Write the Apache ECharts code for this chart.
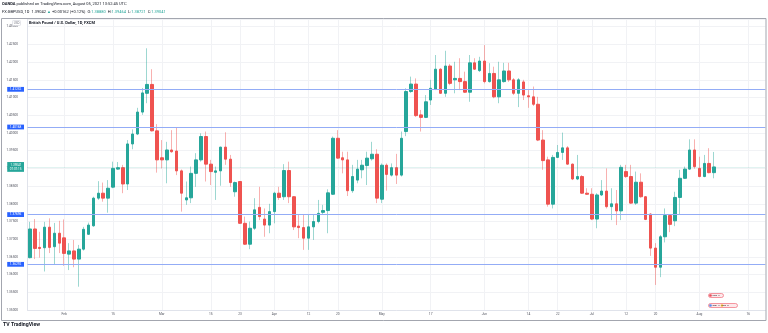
<!DOCTYPE html>
<html><head><meta charset="utf-8">
<script src="https://cdn.jsdelivr.net/npm/echarts@6/dist/echarts.min.js"></script>
<style>html,body{margin:0;padding:0;background:#fff;}#c{width:768px;height:333px;}</style>
</head><body><div id="c"></div>
<script>
// ---- categories: trading days (weekdays) shown on the axis
const firstDay = '2021-01-21';
const lastDay = '2021-08-19';
function weekdayList(a, b) {
  const out = [];
  const d = new Date(a + 'T00:00:00Z'), e = new Date(b + 'T00:00:00Z');
  while (d <= e) {
    const w = d.getUTCDay();
    if (w !== 0 && w !== 6) out.push(d.toISOString().slice(0, 10));
    d.setUTCDate(d.getUTCDate() + 1);
  }
  return out;
}
const categories = weekdayList(firstDay, lastDay);

// ---- tick labels on the time axis
const tickDates = ['2021-02-01','2021-02-15','2021-03-01','2021-03-15','2021-03-23','2021-04-01','2021-04-12','2021-04-20','2021-05-03','2021-05-17','2021-06-01','2021-06-14','2021-06-22','2021-07-01','2021-07-12','2021-07-20','2021-08-02','2021-08-16'];
const tickTexts = ['Feb','15','Mar','15','23','Apr','12','20','May','17','Jun','14','22','Jul','12','20','Aug','16'];

// ---- OHLC values (Jan 21 .. Aug 5, 2021)
const openVals = [
1.3648,1.3729,1.3677,1.3676,1.3734,1.3679,1.3717,
1.3704,1.3658,1.3667,1.3644,1.3672,1.3714,1.3738,1.3816,1.3830,1.3816,
1.3847,1.3898,1.3902,1.3856,1.3969,1.3997,1.4059,1.4112,1.4137,1.4006,
1.3930,1.3924,1.3952,1.3949,1.3893,1.3811,1.3817,1.3886,1.3924,1.3990,
1.3912,1.3889,1.3893,1.3960,1.3926,1.3834,1.3863,1.3745,1.3686,1.3731,
1.3790,1.3757,1.3740,1.3778,1.3830,1.3820,1.3894,1.3820,1.3737,1.3733,
1.3703,1.3735,1.3750,1.3776,1.3781,1.3827,1.3985,1.3930,1.3924,1.3837,
1.3867,1.3896,1.3908,1.3927,1.3940,1.3813,1.3909,1.3881,1.3902,1.3881,
1.4004,1.4117,1.4138,1.4051,1.4044,1.4093,1.4124,1.4180,1.4112,1.4189,
1.4150,1.4154,1.4145,1.4115,1.4198,1.4176,1.4203,1.4145,1.4168,1.4102,
1.4145,1.4175,1.4150,1.4112,1.4144,1.4105,1.4102,1.4081,1.3980,1.3924,
1.3799,1.3931,1.3945,1.3958,1.3912,1.3870,1.3877,1.3830,1.3827,1.3757,
1.3825,1.3836,1.3792,1.3800,1.3780,1.3891,1.3877,1.3802,1.3861,1.3820,
1.3771,1.3675,1.3621,1.3707,1.3767,1.3752,1.3818,1.3872,1.3898,1.3952,
1.3900,1.3877,1.3914,1.38880];
const closeVals = [
1.3729,1.3674,1.3674,1.3734,1.3677,1.3717,1.3689,
1.3660,1.3667,1.3644,1.3672,1.3728,1.3740,1.3816,1.3830,1.3816,1.3844,
1.3900,1.3902,1.3856,1.3969,1.3997,1.4059,1.4113,1.4137,1.4006,1.3924,
1.3924,1.3952,1.3947,1.3893,1.3830,1.3817,1.3886,1.3924,1.3990,1.3912,
1.3891,1.3893,1.3960,1.3926,1.3860,1.3860,1.3745,1.3686,1.3731,1.3783,
1.3764,1.3740,1.3778,1.3830,1.3818,1.3894,1.3820,1.3735,1.3733,1.3703,
1.3735,1.3750,1.3773,1.3781,1.3831,1.3985,1.3929,1.3924,1.3837,1.3877,
1.3898,1.3909,1.3929,1.3940,1.3816,1.3909,1.3883,1.3902,1.3881,1.3985,
1.4117,1.4138,1.4049,1.4044,1.4088,1.4126,1.4180,1.4112,1.4189,1.4140,
1.4154,1.4145,1.4115,1.4198,1.4180,1.4203,1.4145,1.4168,1.4102,1.4150,
1.4175,1.4150,1.4112,1.4150,1.4107,1.4102,1.4081,1.3980,1.3922,1.3799,
1.3931,1.3945,1.3958,1.3912,1.3870,1.3877,1.3830,1.3827,1.3757,1.3825,
1.3836,1.3792,1.3800,1.3780,1.3903,1.3877,1.3802,1.3861,1.3820,1.3756,
1.3675,1.3621,1.3707,1.3767,1.3742,1.3818,1.3872,1.3898,1.3952,1.3905,
1.3877,1.3914,1.3888,1.39041];
const lowVals = [
1.3646,1.3644,1.3648,1.3609,1.3661,1.3630,1.3661,
1.3625,1.3613,1.3621,1.3566,1.3668,1.3712,1.3735,1.3811,1.3806,1.3775,
1.3844,1.3896,1.3830,1.3839,1.3954,1.3994,1.4051,1.4084,1.4004,1.3888,
1.3900,1.3858,1.3944,1.3881,1.3778,1.3797,1.3802,1.3848,1.3919,1.3863,
1.3853,1.3811,1.3851,1.3910,1.3848,1.3820,1.3743,1.3684,1.3672,1.3726,
1.3754,1.3707,1.3717,1.3745,1.3811,1.3811,1.3802,1.3726,1.3703,1.3670,
1.3670,1.3698,1.3745,1.3769,1.3717,1.3825,1.3927,1.3886,1.3822,1.3831,
1.3858,1.3872,1.3853,1.3922,1.3802,1.3802,1.3837,1.3877,1.3856,1.3877,
1.3991,1.4113,1.4045,1.4004,1.4042,1.4079,1.4121,1.4110,1.4102,1.4135,
1.4112,1.4121,1.4113,1.4088,1.4178,1.4172,1.4140,1.4142,1.4098,1.4084,
1.4142,1.4144,1.4107,1.4073,1.4093,1.4071,1.4076,1.3977,1.3896,1.3792,
1.3787,1.3929,1.3924,1.3910,1.3867,1.3867,1.3828,1.3825,1.3754,1.3731,
1.3822,1.3787,1.3754,1.3740,1.3754,1.3873,1.3800,1.3797,1.3817,1.3754,
1.3653,1.3571,1.3593,1.3691,1.3720,1.3737,1.3769,1.3870,1.3896,1.3899,
1.3875,1.3875,1.3886,1.38721];
const highVals = [
1.3749,1.3757,1.3721,1.3749,1.3759,1.3746,1.3752,
1.3756,1.3689,1.3698,1.3684,1.3735,1.3747,1.3820,1.3864,1.3860,1.3867,
1.3919,1.3918,1.3910,1.3980,1.4010,1.4071,1.4127,1.4239,1.4180,1.4025,
1.3980,1.3975,1.4008,1.4016,1.3897,1.3863,1.3905,1.3943,1.3999,1.4004,
1.3924,1.3905,1.3961,1.4002,1.3938,1.3863,1.3864,1.3764,1.3750,1.3816,
1.3848,1.3787,1.3800,1.3834,1.3848,1.3912,1.3919,1.3822,1.3769,1.3769,
1.3769,1.3769,1.3811,1.3797,1.3841,1.3990,1.4008,1.3947,1.3947,1.3910,
1.3924,1.3924,1.3947,1.3975,1.3954,1.3914,1.3914,1.3914,1.3941,1.4004,
1.4126,1.4159,1.4154,1.4065,1.4107,1.4150,1.4220,1.4183,1.4232,1.4195,
1.4201,1.4211,1.4173,1.4220,1.4211,1.4215,1.4248,1.4197,1.4187,1.4201,
1.4198,1.4198,1.4155,1.4155,1.4150,1.4121,1.4131,1.4102,1.4008,1.3933,
1.3938,1.3966,1.4001,1.3963,1.3914,1.3938,1.3881,1.3844,1.3844,1.3830,
1.3867,1.3900,1.3844,1.3839,1.3910,1.3910,1.3910,1.3891,1.3886,1.3822,
1.3774,1.3689,1.3712,1.3787,1.3769,1.3834,1.3896,1.3905,1.3982,1.3982,
1.3933,1.3938,1.3957,1.39464];

// ---- horizontal levels and last price
const levelValues = [1.41232, 1.40168, 1.37696, 1.36292];
const lastPrice = 1.39041;
const lastPriceTimer = '07:07:15';

// ---- price scale
const priceMin = 1.35, priceMax = 1.432, priceStep = 0.005;

const UP = '#26a69a', DOWN = '#ef5350';
const tickMap = {};
tickDates.forEach((d, k) => { tickMap[d] = tickTexts[k]; });
const isTick = (idx, val) => tickMap[val] !== undefined;

const wickData = openVals.map((o, k) => [o, closeVals[k], lowVals[k], highVals[k]]);
const bodyData = openVals.map((o, k) => [o, closeVals[k], Math.min(o, closeVals[k]), Math.max(o, closeVals[k])]);

const chart = echarts.init(document.getElementById('c'), null, {renderer: 'canvas'});
const FF = 'Roboto, "Liberation Sans", Arial, sans-serif';

const levelLines = levelValues.map(v => ({
  yAxis: v,
  lineStyle: {color: '#93acf6', width: 1, type: 'solid'},
  label: {
    show: true, position: 'start', distance: 3.5,
    formatter: v.toFixed(5),
    backgroundColor: '#2962ff', color: '#fff', fontSize: 3.2, fontFamily: FF,
    padding: [0.8, 2.6, 0.6, 2.6], lineHeight: 3.4
  }
}));
levelLines.push({
  yAxis: lastPrice,
  lineStyle: {color: 'rgba(38,166,154,0.28)', width: 1, type: 'dotted'},
  label: {
    show: true, position: 'start', distance: 3.5,
    formatter: lastPrice.toFixed(5) + '\n' + lastPriceTimer,
    backgroundColor: '#26a69a', color: '#fff', fontSize: 3.0, fontFamily: FF,
    padding: [0.8, 2.6, 0.6, 2.6], lineHeight: 4.2
  }
});

chart.setOption({
  animation: false,
  backgroundColor: '#ffffff',
  textStyle: {fontFamily: FF},
  grid: {left: 27.5, right: 2.6, top: 19.6, bottom: 22.9, containLabel: false},
  xAxis: {
    type: 'category', data: categories, boundaryGap: true,
    axisLine: {show: true, lineStyle: {color: '#e0e3eb', width: 1}},
    axisTick: {show: false},
    axisLabel: {interval: isTick, formatter: v => tickMap[v] || '', fontSize: 3.2, color: '#50535e', margin: 3},
    splitLine: {show: true, interval: isTick, alignWithLabel: true, lineStyle: {color: '#f1f2f5', width: 1}}
  },
  yAxis: {
    type: 'value', position: 'left', min: priceMin, max: priceMax, interval: priceStep,
    axisLine: {show: true, lineStyle: {color: '#e0e3eb', width: 1}},
    axisTick: {show: false},
    axisLabel: {
      fontSize: 3.2, color: '#50535e', margin: 9.5,
      formatter: v => (Math.abs(v / priceStep - Math.round(v / priceStep)) < 1e-6 ? v.toFixed(5) : '')
    },
    splitLine: {show: true, lineStyle: {color: '#f1f2f5', width: 1}}
  },
  series: [
    {
      name: 'wicks', type: 'candlestick', data: wickData, barWidth: 1, silent: true,
      itemStyle: {color: 'rgba(38,166,154,0.45)', color0: 'rgba(239,83,80,0.45)',
        borderColor: 'rgba(38,166,154,0.45)', borderColor0: 'rgba(239,83,80,0.45)', borderWidth: 1}
    },
    {
      name: 'GBPUSD', type: 'candlestick', data: bodyData, barWidth: 3, silent: true,
      itemStyle: {color: UP, color0: DOWN, borderColor: UP, borderColor0: DOWN, borderWidth: 1},
      markLine: {silent: true, precision: 5, symbol: ['none', 'none'], animation: false, data: levelLines}
    }
  ],
  graphic: [
    {type: 'rect', shape: {x: 1.5, y: 18.5, width: 764.5, height: 302}, style: {fill: 'none', stroke: '#a3a6af', lineWidth: 1}, z: 100},
    {type: 'text', left: 2, top: 2.2, style: {
      text: '{b|OANDA} published on TradingView.com, August 05, 2021 13:52:45 UTC',
      fontSize: 4, fill: '#131722', fontFamily: FF,
      rich: {b: {fontWeight: 'bold', fontSize: 4, fill: '#131722', fontFamily: FF}}}},
    {type: 'text', left: 2, top: 9.6, style: {
      text: 'FX:GBPUSD, 1D  1.39042 {g|▲} +0.00162 (+0.12%)  O:{g|1.38880}  H:{g|1.39464}  L:{g|1.38721}  C:{g|1.39041}',
      fontSize: 4, fill: '#131722', fontFamily: FF,
      rich: {g: {fill: '#26a69a', fontSize: 4, fontFamily: FF}}}},
    {type: 'rect', shape: {x: 12.5, y: 20.5, width: 8, height: 5, r: 0.8}, style: {fill: '#fff', stroke: '#d1d4dc', lineWidth: 0.6}, z: 101},
    {type: 'text', left: 13.8, top: 21.4, z: 102, style: {text: 'USD', fontSize: 3, fill: '#787b86', fontFamily: FF}},
    {type: 'text', left: 29, top: 21.2, z: 102, style: {text: 'British Pound / U.S. Dollar, 1D, FXCM', fontSize: 4, fontWeight: 'bold', fill: '#131722', fontFamily: FF}},
    {type: 'text', left: 3, top: 322.5, style: {
      text: '{l|TV} TradingView', fontSize: 5.2, fontWeight: 'bold', fill: '#131722', fontFamily: FF,
      rich: {l: {fontSize: 5.2, fontWeight: 'bold', fill: '#131722', fontFamily: FF}}}},
    // event markers (bottom right)
    {type: 'rect', shape: {x: 708.5, y: 293.5, width: 15, height: 4, r: 2}, style: {fill: '#fde8ea', stroke: '#f06b7a', lineWidth: 0.7}, z: 103},
    {type: 'rect', shape: {x: 708.5, y: 303.5, width: 29, height: 4, r: 2}, style: {fill: '#fde8ea', stroke: '#f06b7a', lineWidth: 0.7}, z: 103},
    {type: 'circle', shape: {cx: 710.5, cy: 305.5, r: 1.3}, style: {fill: '#5b8def'}, z: 104},
    {type: 'circle', shape: {cx: 722, cy: 305.5, r: 1.3}, style: {fill: '#f7c844'}, z: 104},
    {type: 'circle', shape: {cx: 710.5, cy: 295.5, r: 1.3}, style: {fill: '#e8505b'}, z: 104},
    {type: 'text', left: 712.5, top: 294, z: 104, style: {text: 'USD  2', fontSize: 2.4, fill: '#131722', fontFamily: FF}},
    {type: 'text', left: 712.5, top: 304, z: 104, style: {text: 'GBP  3   USD  5', fontSize: 2.4, fill: '#131722', fontFamily: FF}}
  ]
});
</script>
</body></html>
